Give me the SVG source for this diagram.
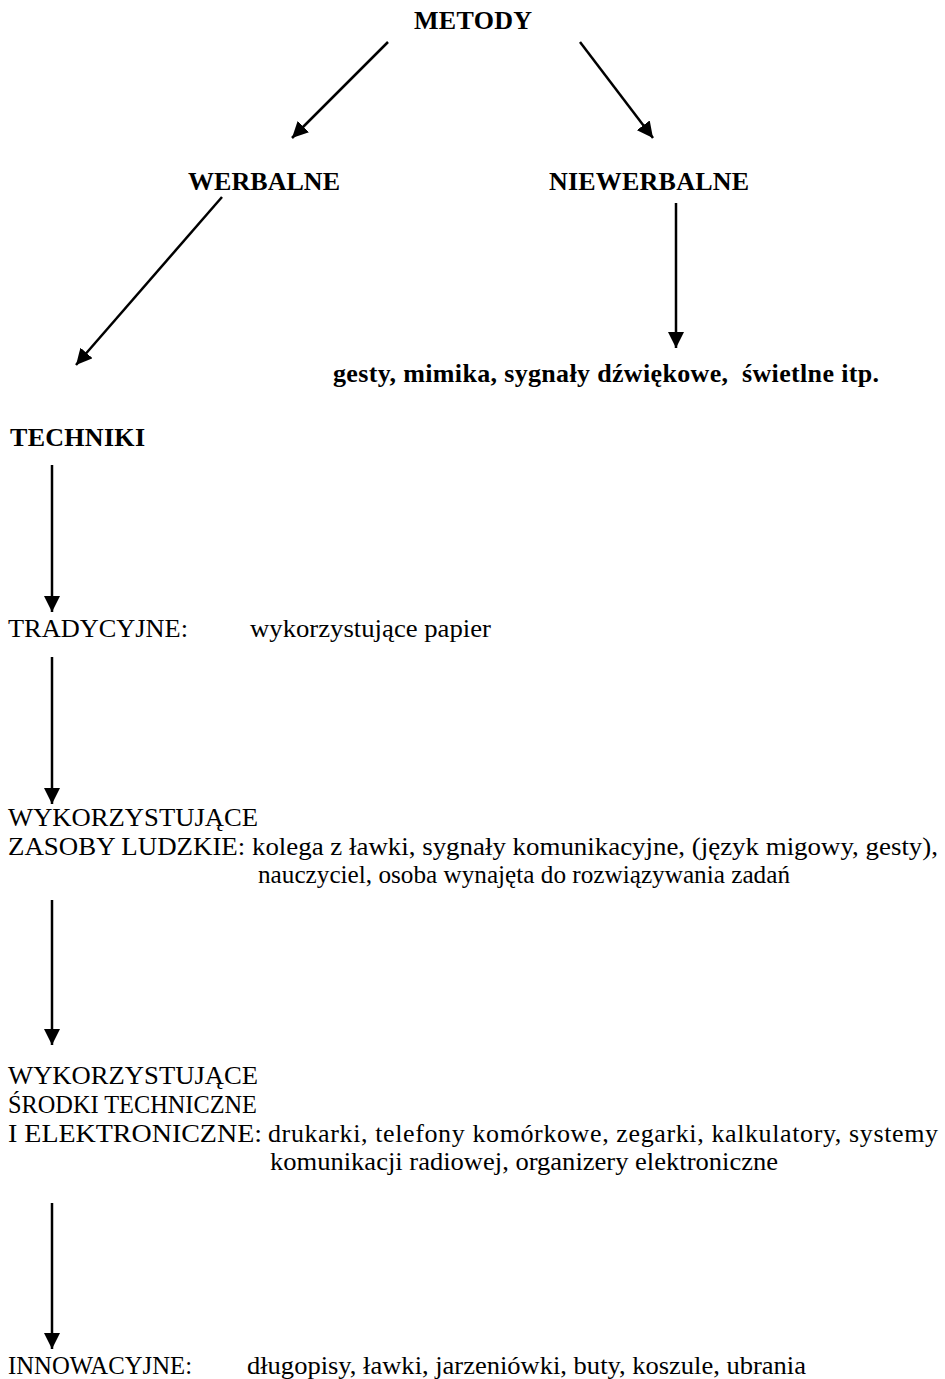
<svg xmlns="http://www.w3.org/2000/svg" width="945" height="1379" viewBox="0 0 945 1379">
<style>
text{font-family:"Liberation Serif","Times New Roman",serif;font-size:26px;fill:#000}
.b{font-weight:bold;font-size:26px}
.c{stroke:#000;stroke-width:2.5;fill:none}
</style>
<defs>
<marker id="ah" viewBox="0 0 16 16" refX="16" refY="8" markerWidth="16" markerHeight="16" markerUnits="userSpaceOnUse" orient="auto">
<path d="M0,0 L16,8 L0,16 Z" fill="#000"/>
</marker>
</defs>
<rect width="945" height="1379" fill="#fff"/>
<g id="connectors">
<line class="c" x1="388" y1="42" x2="292" y2="138" marker-end="url(#ah)"/>
<line class="c" x1="580" y1="42" x2="653" y2="138" marker-end="url(#ah)"/>
<line class="c" x1="222" y1="197" x2="76" y2="365" marker-end="url(#ah)"/>
<line class="c" x1="676" y1="203" x2="676" y2="348" marker-end="url(#ah)"/>
<line class="c" x1="52" y1="465" x2="52" y2="612" marker-end="url(#ah)"/>
<line class="c" x1="52" y1="657" x2="52" y2="804" marker-end="url(#ah)"/>
<line class="c" x1="52" y1="900" x2="52" y2="1045" marker-end="url(#ah)"/>
<line class="c" x1="52" y1="1203" x2="52" y2="1349" marker-end="url(#ah)"/>
</g>
<g id="metody"><text class="b" x="414" y="29" textLength="118">METODY</text></g>
<g id="werbalne"><text class="b" x="188" y="190" textLength="152">WERBALNE</text></g>
<g id="niewerbalne"><text class="b" x="549" y="190" textLength="200">NIEWERBALNE</text></g>
<g id="gesty"><text class="b" x="333" y="382" textLength="546" xml:space="preserve">gesty, mimika, sygnały dźwiękowe,  świetlne itp.</text></g>
<g id="techniki"><text class="b" x="10" y="446" textLength="135">TECHNIKI</text></g>
<g id="tradycyjne">
<text x="8" y="637" textLength="180" lengthAdjust="spacingAndGlyphs">TRADYCYJNE:</text>
<text x="250" y="637" textLength="241" lengthAdjust="spacingAndGlyphs">wykorzystujące papier</text>
</g>
<g id="zasoby">
<text x="8" y="826" textLength="250" lengthAdjust="spacingAndGlyphs">WYKORZYSTUJĄCE</text>
<text x="8" y="855" textLength="930" lengthAdjust="spacingAndGlyphs">ZASOBY LUDZKIE: kolega z ławki, sygnały komunikacyjne, (język migowy, gesty),</text>
<text x="258" y="883" textLength="532" lengthAdjust="spacingAndGlyphs">nauczyciel, osoba wynajęta do rozwiązywania zadań</text>
</g>
<g id="srodki">
<text x="8" y="1084" textLength="250" lengthAdjust="spacingAndGlyphs">WYKORZYSTUJĄCE</text>
<text x="8" y="1113" textLength="249" lengthAdjust="spacingAndGlyphs">ŚRODKI TECHNICZNE</text>
<text x="8" y="1142" textLength="254" lengthAdjust="spacingAndGlyphs">I ELEKTRONICZNE:</text>
<text x="268" y="1142" textLength="670" lengthAdjust="spacing">drukarki, telefony komórkowe, zegarki, kalkulatory, systemy</text>
<text x="270" y="1170" textLength="508" lengthAdjust="spacingAndGlyphs">komunikacji radiowej, organizery elektroniczne</text>
</g>
<g id="innowacyjne">
<text x="8" y="1374" textLength="184" lengthAdjust="spacingAndGlyphs">INNOWACYJNE:</text>
<text x="247" y="1374" textLength="559" lengthAdjust="spacingAndGlyphs">długopisy, ławki, jarzeniówki, buty, koszule, ubrania</text>
</g>
</svg>
